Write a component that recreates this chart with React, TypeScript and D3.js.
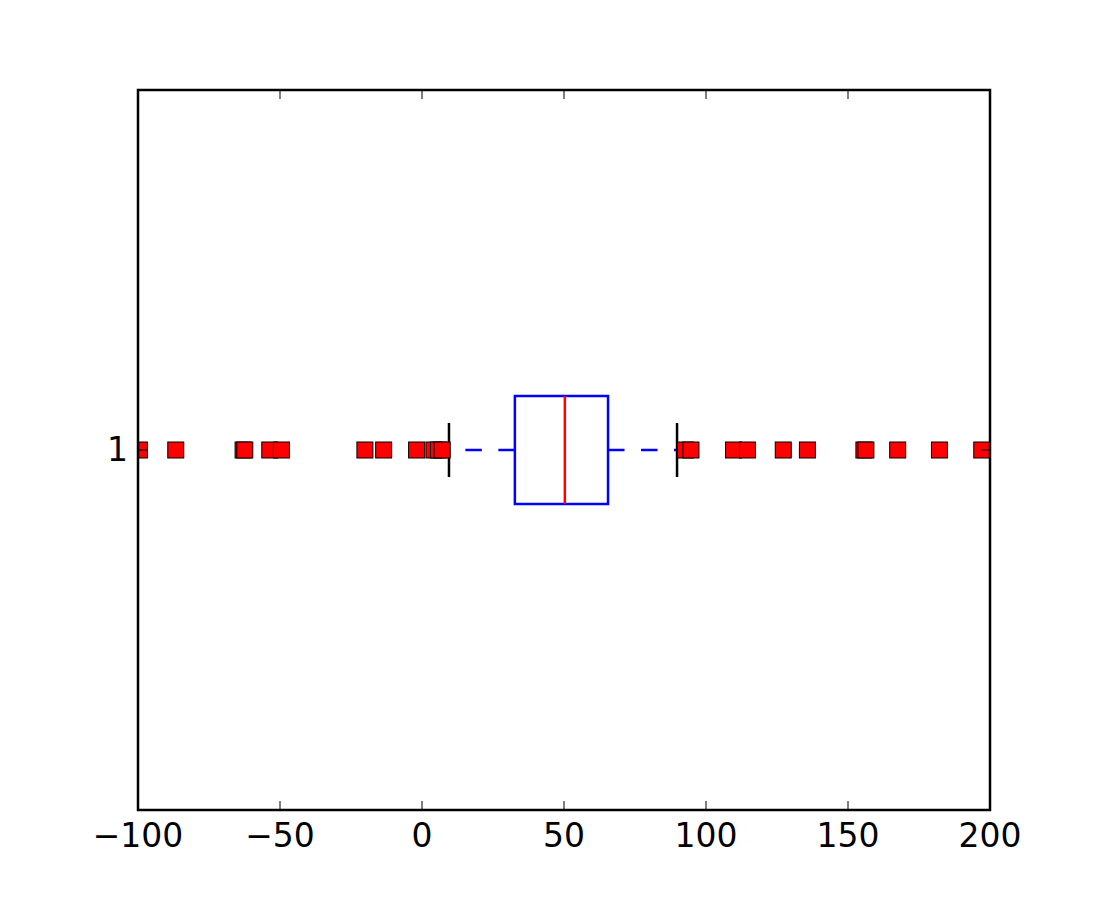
import React from "react";
import * as d3 from "d3";

const xTicks = [-100, -50, 0, 50, 100, 150, 200];
const yTicks = [1];
const boxStats = { whiskerLow: 9.5, q1: 32.7, median: 50.3, q3: 65.5, whiskerHigh: 89.8 };
const fliersLow = [-99.5, -86.7, -63, -62.4, -53.6, -49.5, -20.1, -13.5, -1.9, 4.2, 5.8, 7.1];
const fliersHigh = [92.7, 94.7, 109.7, 114.6, 127.2, 135.7, 155.6, 156.3, 167.5, 182.2, 197.1];

const W = 1100, H = 900;
const left = 138, right = 990, top = 90, bottom = 810;

export default function App() {
  const x = d3.scaleLinear().domain([-100, 200]).range([left, right]);
  const y = d3.scaleLinear().domain([0.5, 1.5]).range([bottom, top]);
  const yc = y(1);
  const boxHalf = (y(0.5) - y(0.575));
  const capHalf = (y(0.5) - y(0.5375));
  const fliers = [...fliersLow, ...fliersHigh];
  const ms = 16;
  const font = "'DejaVu Sans', sans-serif";
  const lw = 2.5;
  return (
    <svg width={W} height={H} style={{ display: "block", position: "absolute", left: 0, top: 0 }}>
      <rect x={0} y={0} width={W} height={H} fill="#fff" />
      <defs>
        <clipPath id="plotclip">
          <rect x={left} y={top} width={right - left} height={bottom - top} />
        </clipPath>
      </defs>
      {/* whiskers */}
      <line x1={x(boxStats.q1)} x2={x(boxStats.whiskerLow)} y1={yc} y2={yc} stroke="#0000ff" strokeWidth={lw} strokeDasharray="16.5,16.5" />
      <line x1={x(boxStats.q3)} x2={x(boxStats.whiskerHigh)} y1={yc} y2={yc} stroke="#0000ff" strokeWidth={lw} strokeDasharray="16.5,16.5" />
      {/* caps */}
      <line x1={x(boxStats.whiskerLow)} x2={x(boxStats.whiskerLow)} y1={yc - capHalf} y2={yc + capHalf} stroke="#000" strokeWidth={lw} />
      <line x1={x(boxStats.whiskerHigh)} x2={x(boxStats.whiskerHigh)} y1={yc - capHalf} y2={yc + capHalf} stroke="#000" strokeWidth={lw} />
      {/* box */}
      <rect x={x(boxStats.q1)} y={yc - boxHalf} width={x(boxStats.q3) - x(boxStats.q1)} height={2 * boxHalf} fill="none" stroke="#0000ff" strokeWidth={lw} />
      <line x1={x(boxStats.median)} x2={x(boxStats.median)} y1={yc - boxHalf} y2={yc + boxHalf} stroke="#ff0000" strokeWidth={lw} />
      {/* fliers */}
      <g clipPath="url(#plotclip)">
        {fliers.map((v, i) => (
          <rect key={i} x={x(v) - ms / 2} y={yc - ms / 2} width={ms} height={ms} fill="#ff0000" stroke="#000" strokeWidth={1} />
        ))}
      </g>
      {/* ticks */}
      {xTicks.map((t) => (
        <g key={t}>
          <line x1={x(t)} x2={x(t)} y1={bottom} y2={bottom - 9} stroke="#000" strokeWidth={1} />
          <line x1={x(t)} x2={x(t)} y1={top} y2={top + 9} stroke="#000" strokeWidth={1} />
          <text x={x(t)} y={847} textAnchor="middle" fontFamily={font} fontSize={33} fill="#000">
            {t < 0 ? "\u2212" + Math.abs(t) : String(t)}
          </text>
        </g>
      ))}
      {yTicks.map((t) => (
        <g key={t}>
          <line x1={left} x2={left + 9} y1={y(t)} y2={y(t)} stroke="#000" strokeWidth={1} />
          <line x1={right} x2={right - 9} y1={y(t)} y2={y(t)} stroke="#000" strokeWidth={1} />
          <text x={128} y={y(t) + 11} textAnchor="end" fontFamily={font} fontSize={33} fill="#000">{t}</text>
        </g>
      ))}
      {/* frame */}
      <rect x={left} y={top} width={right - left} height={bottom - top} fill="none" stroke="#000" strokeWidth={lw} />
    </svg>
  );
}
